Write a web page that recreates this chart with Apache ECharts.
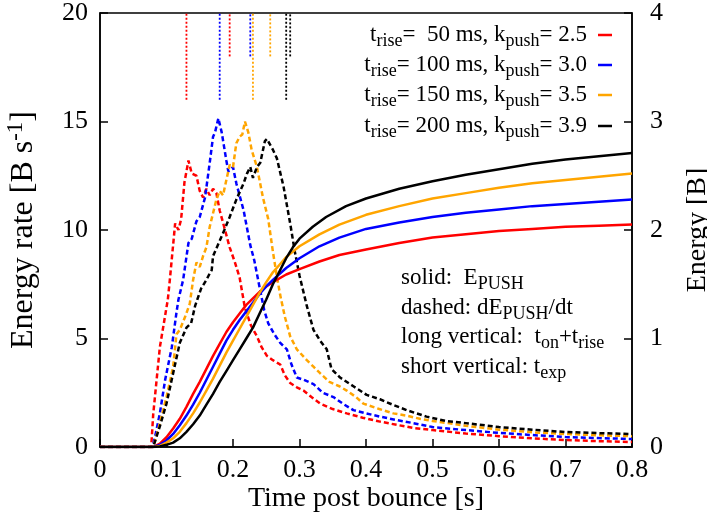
<!DOCTYPE html>
<html><head><meta charset="utf-8">
<script src="https://cdn.jsdelivr.net/npm/echarts@6/dist/echarts.min.js"></script>
<style>html,body{margin:0;padding:0;background:#fff}#c{width:707px;height:512px}</style>
</head><body><div id="c"></div>
<script>
// ---------- data ----------
const seriesColors = ['#ff0000', '#0000ff', '#ffa500', '#000000'];
const tRiseMs = [' 50', '100', '150', '200'];
const kPush = ['2.5', '3.0', '3.5', '3.9'];
const xTickLabels = ['0', '0.1', '0.2', '0.3', '0.4', '0.5', '0.6', '0.7', '0.8'];

// energy E_PUSH [B] (right axis)
const energyRed = [[0,0],[0.08,0],[0.09,0.03],[0.10,0.09],[0.11,0.17],[0.12,0.26],[0.13,0.37],[0.14,0.49],[0.15,0.60],[0.16,0.72],[0.17,0.84],[0.18,0.95],[0.19,1.06],[0.20,1.15],[0.21,1.23],[0.22,1.31],[0.23,1.37],[0.24,1.43],[0.25,1.48],[0.26,1.52],[0.28,1.59],[0.30,1.64],[0.33,1.71],[0.36,1.77],[0.40,1.82],[0.45,1.88],[0.50,1.93],[0.55,1.96],[0.60,1.99],[0.65,2.01],[0.70,2.03],[0.75,2.04],[0.80,2.05]];
const energyBlue = [[0,0],[0.08,0],[0.09,0.02],[0.10,0.06],[0.11,0.12],[0.12,0.20],[0.13,0.29],[0.14,0.39],[0.15,0.50],[0.16,0.62],[0.17,0.74],[0.18,0.86],[0.19,0.98],[0.20,1.08],[0.21,1.17],[0.22,1.25],[0.23,1.33],[0.24,1.41],[0.25,1.48],[0.26,1.54],[0.28,1.65],[0.30,1.74],[0.33,1.85],[0.36,1.93],[0.40,2.01],[0.45,2.07],[0.50,2.12],[0.55,2.16],[0.60,2.19],[0.65,2.22],[0.70,2.24],[0.75,2.26],[0.80,2.28]];
const energyOrange = [[0,0],[0.08,0],[0.09,0.01],[0.10,0.04],[0.11,0.08],[0.12,0.14],[0.13,0.22],[0.14,0.31],[0.15,0.41],[0.16,0.52],[0.17,0.63],[0.18,0.75],[0.19,0.87],[0.20,0.98],[0.21,1.09],[0.22,1.20],[0.23,1.31],[0.24,1.42],[0.25,1.52],[0.26,1.61],[0.27,1.68],[0.28,1.75],[0.30,1.85],[0.33,1.96],[0.36,2.05],[0.40,2.14],[0.45,2.22],[0.50,2.29],[0.55,2.34],[0.60,2.39],[0.65,2.43],[0.70,2.46],[0.75,2.49],[0.80,2.52]];
const energyBlack = [[0,0],[0.08,0],[0.09,0.005],[0.10,0.02],[0.11,0.04],[0.12,0.08],[0.13,0.14],[0.14,0.21],[0.15,0.29],[0.16,0.39],[0.17,0.49],[0.18,0.60],[0.19,0.70],[0.20,0.80],[0.21,0.90],[0.22,1.00],[0.23,1.10],[0.24,1.23],[0.25,1.36],[0.26,1.50],[0.27,1.62],[0.28,1.74],[0.29,1.84],[0.30,1.92],[0.32,2.03],[0.34,2.12],[0.37,2.22],[0.40,2.29],[0.45,2.38],[0.50,2.45],[0.55,2.51],[0.60,2.56],[0.65,2.61],[0.70,2.65],[0.75,2.68],[0.80,2.71]];

// energy rate dE_PUSH/dt [B/s] (left axis)
const rateRed = [[0,0],[0.077,0],[0.080,1.5],[0.090,4.6],[0.102,6.8],[0.105,7.7],[0.109,9.0],[0.113,10.3],[0.118,10.0],[0.122,10.5],[0.127,12.2],[0.133,13.2],[0.138,12.6],[0.145,12.5],[0.150,11.8],[0.155,11.5],[0.160,11.9],[0.165,11.6],[0.170,11.9],[0.175,11.7],[0.180,10.9],[0.188,10.0],[0.195,9.2],[0.203,8.5],[0.210,7.8],[0.218,6.4],[0.227,5.6],[0.236,5.1],[0.243,4.6],[0.251,4.2],[0.260,4.0],[0.271,3.8],[0.278,3.3],[0.286,2.95],[0.296,2.75],[0.306,2.6],[0.318,2.3],[0.331,2.0],[0.350,1.75],[0.371,1.55],[0.395,1.35],[0.421,1.17],[0.450,1.0],[0.471,0.88],[0.50,0.78],[0.55,0.62],[0.60,0.50],[0.65,0.40],[0.70,0.32],[0.75,0.27],[0.80,0.23]];
const rateBlue = [[0,0],[0.079,0],[0.083,0.5],[0.090,1.55],[0.098,3.1],[0.108,4.6],[0.115,6.2],[0.118,6.8],[0.125,7.7],[0.133,9.4],[0.138,9.6],[0.145,10.4],[0.150,10.6],[0.158,11.5],[0.165,13.1],[0.170,14.3],[0.173,14.5],[0.178,15.15],[0.183,14.5],[0.190,13.2],[0.193,12.7],[0.200,12.9],[0.205,12.15],[0.216,10.9],[0.226,9.3],[0.232,8.6],[0.241,7.2],[0.247,6.3],[0.253,5.7],[0.262,5.2],[0.271,4.8],[0.281,4.5],[0.288,3.8],[0.296,3.2],[0.306,3.1],[0.321,2.9],[0.335,2.5],[0.351,2.3],[0.365,2.0],[0.381,1.7],[0.400,1.55],[0.421,1.4],[0.445,1.25],[0.471,1.1],[0.50,0.92],[0.55,0.78],[0.60,0.65],[0.65,0.55],[0.70,0.46],[0.75,0.41],[0.80,0.37]];
const rateOrange = [[0,0],[0.079,0],[0.083,0.3],[0.090,1.1],[0.100,2.3],[0.110,3.7],[0.115,5.2],[0.120,5.4],[0.128,6.0],[0.135,6.6],[0.140,7.7],[0.145,8.5],[0.150,8.3],[0.155,8.8],[0.160,9.2],[0.165,10.15],[0.175,11.4],[0.180,11.8],[0.185,11.6],[0.190,12.3],[0.195,13.0],[0.200,12.9],[0.205,14.0],[0.210,14.3],[0.214,14.4],[0.218,15.0],[0.223,14.5],[0.228,13.7],[0.236,12.9],[0.245,11.5],[0.253,10.5],[0.260,9.0],[0.266,7.85],[0.271,7.0],[0.278,6.0],[0.286,5.1],[0.296,4.5],[0.311,4.0],[0.321,3.7],[0.331,3.4],[0.345,3.0],[0.360,2.8],[0.371,2.6],[0.385,2.3],[0.396,2.0],[0.420,1.75],[0.441,1.55],[0.460,1.45],[0.481,1.3],[0.50,1.2],[0.55,0.98],[0.60,0.80],[0.65,0.68],[0.70,0.60],[0.75,0.54],[0.80,0.50]];
const rateBlack = [[0,0],[0.080,0],[0.090,0.95],[0.100,2.0],[0.110,3.4],[0.120,4.8],[0.130,5.5],[0.137,5.7],[0.143,6.5],[0.152,7.3],[0.160,7.7],[0.165,8.0],[0.168,8.15],[0.170,8.8],[0.180,9.5],[0.187,10.0],[0.195,10.6],[0.205,11.4],[0.216,12.15],[0.221,12.6],[0.226,12.9],[0.230,12.4],[0.236,12.9],[0.241,13.1],[0.248,14.1],[0.251,14.2],[0.260,13.7],[0.266,13.3],[0.276,12.0],[0.286,10.3],[0.293,9.0],[0.300,7.9],[0.311,6.5],[0.321,5.4],[0.331,4.9],[0.341,4.5],[0.348,3.6],[0.361,3.2],[0.381,2.8],[0.401,2.4],[0.421,2.2],[0.440,1.95],[0.461,1.7],[0.491,1.4],[0.520,1.2],[0.55,1.1],[0.60,0.92],[0.65,0.80],[0.70,0.69],[0.75,0.64],[0.80,0.60]];

// vertical markers (times in s), drawn between left-axis values
const longVerticalT = [0.13, 0.18, 0.23, 0.28];   // t_on + t_rise
const shortVerticalT = [0.195, 0.226, 0.256, 0.286]; // t_exp
const longVerticalSpan = [16, 20];
const shortVerticalSpan = [18, 20];

// ---------- chart ----------
const FONT = 'Liberation Serif';
const energies = [energyRed, energyBlue, energyOrange, energyBlack];
const rates = [rateRed, rateBlue, rateOrange, rateBlack];
const chart = echarts.init(document.getElementById('c'), null, {renderer: 'canvas'});

const series = [];
rates.forEach((d, i) => series.push({
  name: 'rate' + i, type: 'line', yAxisIndex: 0, data: d, symbol: 'none', z: 2,
  lineStyle: {color: seriesColors[i], width: 2.5, type: [5, 3]}
}));
energies.forEach((d, i) => series.push({
  name: 'energy' + i, type: 'line', yAxisIndex: 1, data: d, symbol: 'none', z: 3,
  lineStyle: {color: seriesColors[i], width: 2.5, type: 'solid'}
}));
longVerticalT.forEach((t, i) => series.push({
  name: 'long' + i, type: 'line', yAxisIndex: 0, symbol: 'none', z: 2,
  data: [[t, longVerticalSpan[0]], [t, longVerticalSpan[1]]],
  lineStyle: {color: seriesColors[i], width: 1.8, type: [2, 2]}
}));
shortVerticalT.forEach((t, i) => series.push({
  name: 'short' + i, type: 'line', yAxisIndex: 0, symbol: 'none', z: 2,
  data: [[t, shortVerticalSpan[0]], [t, shortVerticalSpan[1]]],
  lineStyle: {color: seriesColors[i], width: 1.8, type: [2, 2]}
}));

const subStyle = {fontFamily: FONT, fontSize: 18, color: '#000', padding: [13, 0, 0, 0]};
const mainStyle = {fontFamily: FONT, fontSize: 23, color: '#000'};

const graphics = [];
const legendY = [35, 65, 95, 126];
legendY.forEach((y, i) => {
  graphics.push({
    type: 'text', x: 587, y: y, z: 10,
    style: {
      text: 't{s|rise}{m|= ' + tRiseMs[i] + ' ms, k}{s|push}{m|= ' + kPush[i] + '}',
      align: 'right', verticalAlign: 'middle', textAlign: 'right', textVerticalAlign: 'middle',
      font: '23px "Liberation Serif"', fill: '#000',
      rich: {m: mainStyle, s: subStyle}
    }
  });
  graphics.push({
    type: 'line', z: 10,
    shape: {x1: 598, y1: y, x2: 612, y2: y},
    style: {stroke: seriesColors[i], lineWidth: 2.5}
  });
});
const noteLines = [
  'solid:  E{s|PUSH}',
  'dashed: dE{s|PUSH}{m|/dt}',
  'long vertical:  t{s|on}{m|+t}{s|rise}',
  'short vertical: t{s|exp}'
];
const noteY = [278, 308, 337, 367];
noteLines.forEach((txt, i) => graphics.push({
  type: 'text', x: 401, y: noteY[i], z: 10,
  style: {
    text: txt, align: 'left', verticalAlign: 'middle', textAlign: 'left', textVerticalAlign: 'middle',
    font: '23px "Liberation Serif"', fill: '#000', rich: {m: mainStyle, s: subStyle}
  }
}));

const axisLine = {show: true, lineStyle: {color: '#000', width: 1.5}};
const axisTick = {show: true, inside: true, length: 8, lineStyle: {color: '#000', width: 1.5}};

chart.setOption({
  animation: false,
  backgroundColor: '#fff',
  grid: {left: 100, right: 75, top: 13, bottom: 65, containLabel: false, outerBoundsMode: 'none',
    show: true, borderColor: '#000', borderWidth: 1.5, backgroundColor: 'transparent'},
  xAxis: {
    type: 'value', min: 0, max: 0.8, interval: 0.1,
    axisLine: axisLine, axisTick: axisTick, splitLine: {show: false},
    axisLabel: {color: '#000', fontFamily: FONT, fontSize: 26, margin: 10,
      formatter: v => xTickLabels[Math.round(v * 10)]},
    name: 'Time post bounce [s]', nameLocation: 'middle', nameGap: 38, nameMoveOverlap: false,
    nameTextStyle: {color: '#000', fontFamily: FONT, fontSize: 28}
  },
  yAxis: [{
    type: 'value', min: 0, max: 20, interval: 5, position: 'left',
    axisLine: axisLine, axisTick: axisTick, splitLine: {show: false},
    axisLabel: {color: '#000', fontFamily: FONT, fontSize: 26, margin: 12},
    name: 'Energy rate [B s{sup|-1}]', nameLocation: 'middle', nameRotate: 90, nameGap: 57, nameMoveOverlap: false,
    nameTextStyle: {color: '#000', fontFamily: FONT, fontSize: 32,
      rich: {sup: {fontFamily: FONT, fontSize: 23, color: '#000', padding: [0, 0, 16, 0]}}}
  }, {
    type: 'value', min: 0, max: 4, interval: 1, position: 'right',
    axisLine: axisLine, axisTick: axisTick, splitLine: {show: false},
    axisLabel: {color: '#000', fontFamily: FONT, fontSize: 26, margin: 18},
    name: 'Energy [B]', nameLocation: 'middle', nameRotate: 90, nameGap: 52, nameMoveOverlap: false,
    nameTextStyle: {color: '#000', fontFamily: FONT, fontSize: 28}
  }],
  series: series,
  graphic: graphics
});
</script>
</body></html>
